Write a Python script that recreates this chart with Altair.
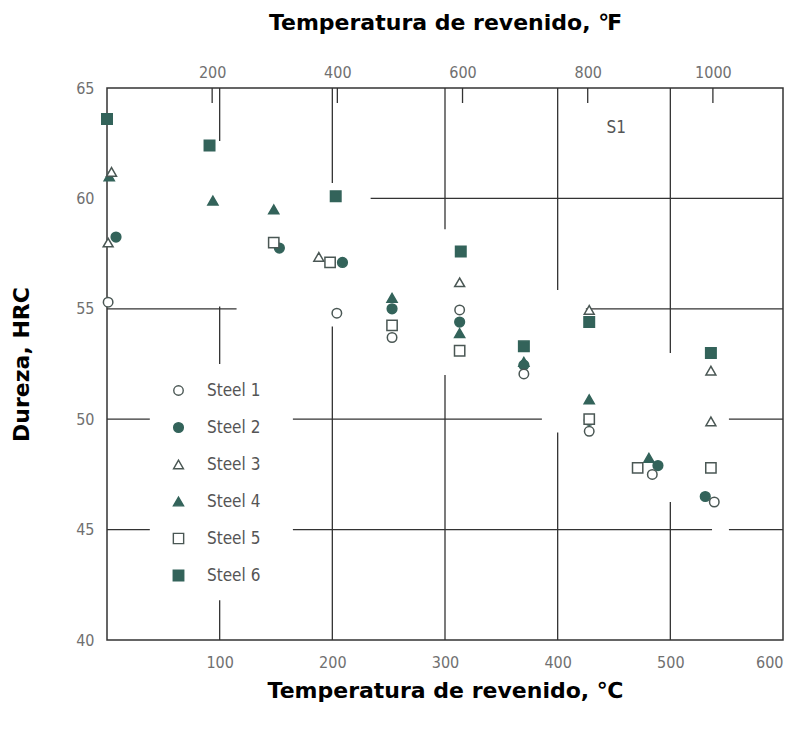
import altair as alt
import pandas as pd

# ---------------- data ----------------
steels = ["Steel 1", "Steel 2", "Steel 3", "Steel 4", "Steel 5", "Steel 6"]

s1_t = [1, 204, 253, 313, 370, 428, 484, 539]
s1_h = [55.3, 54.8, 53.7, 54.95, 52.05, 49.45, 47.5, 46.25]
s2_t = [8, 153, 209, 253, 313, 370, 428, 489, 531]
s2_h = [58.25, 57.75, 57.1, 55.0, 54.4, 52.45, 49.95, 47.9, 46.5]
s3_t = [4, 1, 188, 313, 428, 536, 536]
s3_h = [61.2, 58.0, 57.35, 56.2, 54.95, 52.2, 49.9]
s4_t = [2, 94, 148, 253, 313, 370, 428, 481]
s4_h = [61.0, 59.9, 59.5, 55.5, 53.9, 52.6, 50.9, 48.25]
s5_t = [148, 198, 253, 313, 428, 471, 536]
s5_h = [58.0, 57.1, 54.25, 53.1, 50.0, 47.8, 47.8]
s6_t = [0, 91, 203, 314, 370, 428, 536]
s6_h = [63.6, 62.4, 60.1, 57.6, 53.3, 54.4, 53.0]

x_ticks_c = [100, 200, 300, 400, 500, 600]
x_ticks_f = [200, 400, 600, 800, 1000]
y_ticks = [40, 45, 50, 55, 60, 65]

# broken grid lines of the scanned chart (data units)
h_grid_h = [60, 55, 55, 50, 50, 50, 45, 45, 45]
h_grid_t1 = [234, 0, 425, 0, 165, 552, 0, 165, 552]
h_grid_t2 = [600, 115, 600, 38, 386, 600, 38, 537, 600]

v_grid_t = [100, 100, 100, 200, 200, 300, 300, 400, 400, 500, 500]
v_grid_h1 = [62.6, 52.5, 40, 60.7, 40, 58.6, 40, 55.85, 40, 53.0, 40]
v_grid_h2 = [65, 55.1, 41.8, 65, 54.2, 65, 52.0, 65, 49.4, 65, 46.25]

note_text = ["S1"]
note_t = [452]
note_h = [63.2]

# ---------------- tables ----------------
series = {
    "Steel 1": (s1_t, s1_h), "Steel 2": (s2_t, s2_h), "Steel 3": (s3_t, s3_h),
    "Steel 4": (s4_t, s4_h), "Steel 5": (s5_t, s5_h), "Steel 6": (s6_t, s6_h),
}
draw_order = ["Steel 6", "Steel 4", "Steel 2", "Steel 1", "Steel 3", "Steel 5"]
rows = []
for s in draw_order:
    ts, hs = series[s]
    for t, h in zip(ts, hs):
        rows.append({"steel": s, "t": t, "h": h})
pts = pd.DataFrame(rows)

hgrid = pd.DataFrame({"h": h_grid_h, "t": h_grid_t1, "t2": h_grid_t2})
vgrid = pd.DataFrame({"t": v_grid_t, "h": v_grid_h1, "h2": v_grid_h2})
notes = pd.DataFrame({"label": note_text, "t": note_t, "h": note_h})
ftick = pd.DataFrame({"f": x_ticks_f})

# ---------------- styles ----------------
TICK_FONT = "'DejaVu Sans Condensed', 'Liberation Sans Narrow', 'DejaVu Sans', sans-serif"
TITLE_FONT = "'DejaVu Sans', 'Liberation Sans', sans-serif"
TEAL = "#33635a"
OPEN_STROKE = "#4a5754"
GRID = "#333333"

x_scale = alt.Scale(domain=[0, 600], nice=False, zero=False)
y_scale = alt.Scale(domain=[40, 65], nice=False, zero=False)

x_axis = alt.Axis(orient="bottom", values=x_ticks_c, ticks=False, domain=False, grid=False,
                  labelFont=TICK_FONT, labelFontSize=16, labelColor="#707070", labelPadding=14,
                  title="Temperatura de revenido, ℃", titleFont=TITLE_FONT, titleFontSize=22,
                  titleFontWeight="bold", titleColor="black", titlePadding=10)
y_axis = alt.Axis(values=y_ticks, ticks=False, domain=False, grid=False,
                  labelFont=TICK_FONT, labelFontSize=16, labelColor="#707070", labelPadding=13,
                  title="Dureza, HRC", titleFont=TITLE_FONT, titleFontSize=22,
                  titleFontWeight="bold", titleColor="black", titlePadding=42)

def X(field):
    return alt.X(field, type="quantitative", scale=x_scale, axis=x_axis)

def Y(field):
    return alt.Y(field, type="quantitative", scale=y_scale, axis=y_axis)

leg = alt.Legend(title=None)

points = alt.Chart(pts).mark_point(filled=False, opacity=1, strokeWidth=1.5).encode(
    x=X("t"),
    y=Y("h"),
    shape=alt.Shape("steel:N", sort=steels, scale=alt.Scale(domain=steels, range=[
        "circle", "circle", "triangle-up", "triangle-up", "square", "square"]), legend=leg),
    fill=alt.Fill("steel:N", sort=steels, scale=alt.Scale(domain=steels, range=[
        "white", TEAL, "white", TEAL, "white", TEAL]), legend=leg),
    stroke=alt.Stroke("steel:N", sort=steels, scale=alt.Scale(domain=steels, range=[
        OPEN_STROKE, TEAL, OPEN_STROKE, TEAL, OPEN_STROKE, TEAL]), legend=leg),
    size=alt.Size("steel:N", sort=steels, scale=alt.Scale(domain=steels, range=[
        90, 110, 165, 165, 144, 160]), legend=leg),
)

hlines = alt.Chart(hgrid).mark_rule(color=GRID, strokeWidth=1.3).encode(
    x=X("t"), x2="t2", y=Y("h"))
vlines = alt.Chart(vgrid).mark_rule(color=GRID, strokeWidth=1.3).encode(
    x=X("t"), y=Y("h"), y2="h2")
note = alt.Chart(notes).mark_text(font=TICK_FONT, fontSize=17, color="#555").encode(
    x=X("t"), y=Y("h"), text="label:N")

celsius = alt.layer(hlines, vlines, note, points)

fahr = alt.Chart(ftick).mark_rule(color=GRID, strokeWidth=1.3).encode(
    x=alt.X("f:Q", scale=alt.Scale(domain=[32, 1112], nice=False, zero=False),
            axis=alt.Axis(orient="top", values=x_ticks_f, format="d", ticks=False,
                          domain=False, grid=False,
                          labelFont=TICK_FONT, labelFontSize=16, labelColor="#707070",
                          labelPadding=8, title="Temperatura de revenido, ℉",
                          titleFont=TITLE_FONT, titleFontSize=22, titleFontWeight="bold",
                          titleColor="black", titlePadding=30)),
    y=alt.value(0),
    y2=alt.value(15),
)

chart = alt.layer(celsius, fahr).resolve_scale(x="independent").properties(
    width=676, height=552,
    autosize=alt.AutoSizeParams(type="none"),
    padding={"left": 99, "top": 80, "right": 14, "bottom": 83},
).configure_view(
    stroke=GRID, strokeWidth=1.5
).configure_legend(
    orient="none", legendX=63, legendY=294, padding=0, rowPadding=19,
    labelFont=TICK_FONT, labelFontSize=17, labelColor="#555", labelOffset=20,
    symbolStrokeWidth=1.4,
)

chart.save("out.html", embed_options={"renderer": "svg", "actions": False})
